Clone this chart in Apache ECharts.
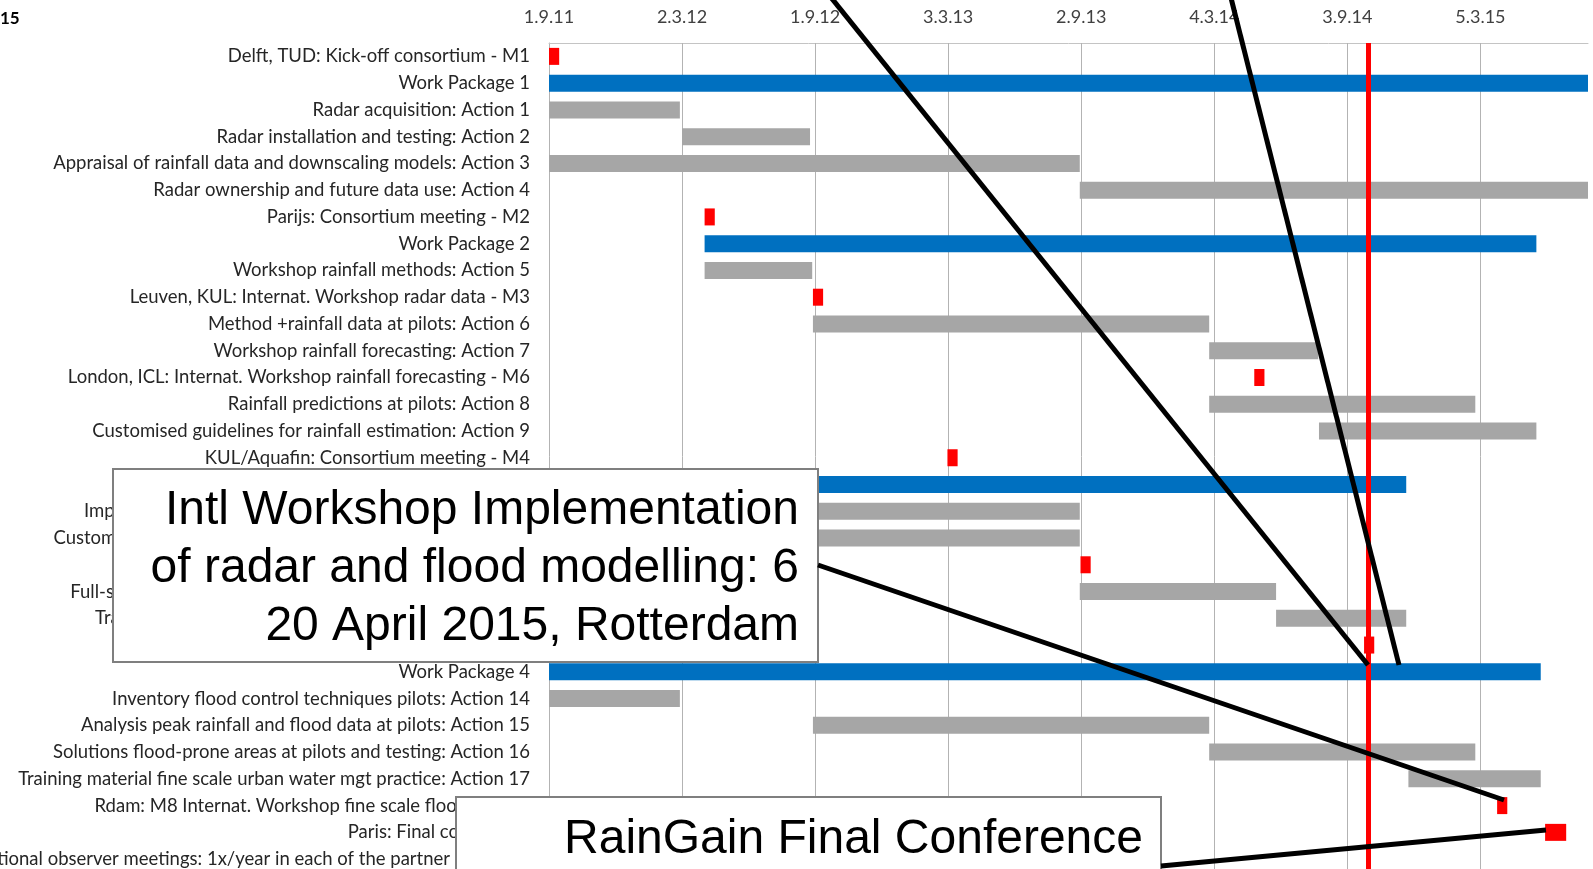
<!DOCTYPE html>
<html><head><meta charset="utf-8">
<script src="https://cdn.jsdelivr.net/npm/echarts@6/dist/echarts.min.js"></script>
<style>html,body{margin:0;padding:0;background:#fff;overflow:hidden}#c{width:1593px;height:869px}</style>
</head><body><div id="c"></div><script>
// ---- data ----
const taskLabels = [
  'Delft, TUD: Kick-off consortium - M1',
  'Work Package 1',
  'Radar acquisition: Action 1',
  'Radar installation and testing: Action 2',
  'Appraisal of rainfall data and downscaling models: Action 3',
  'Radar ownership and future data use: Action 4',
  'Parijs: Consortium meeting - M2',
  'Work Package 2',
  'Workshop rainfall methods: Action 5',
  'Leuven, KUL: Internat. Workshop radar data - M3',
  'Method +rainfall data at pilots: Action 6',
  'Workshop rainfall forecasting: Action 7',
  'London, ICL: Internat. Workshop rainfall forecasting - M6',
  'Rainfall predictions at pilots: Action 8',
  'Customised guidelines for rainfall estimation: Action 9',
  'KUL/Aquafin: Consortium meeting - M4',
  'Work Package 3',
  'Implementation of radar data at urban pilots: Action 10',
  'Customised guidelines for urban flood modeling: Action 11',
  'Consortium meeting - M5',
  'Full-scale flood modelling and testing at pilots: Action 12',
  'Training on radar and flood modelling tools: Action 13',
  'Internat. Workshop - M7',
  'Work Package 4',
  'Inventory flood control techniques pilots: Action 14',
  'Analysis peak rainfall and flood data at pilots: Action 15',
  'Solutions flood-prone areas at pilots and testing: Action 16',
  'Training material fine scale urban water mgt practice: Action 17',
  'Rdam: M8 Internat. Workshop fine scale flood models',
  'Paris: Final conference',
  'National observer meetings: 1x/year in each of the partner countries'
];
const taskKinds = ['M','WP','A','A','A','A','M','WP','A','M','A','A','M','A','A','M','WP','A','A','M','A','A','M','WP','A','A','A','A','M','M',''];
const taskStarts = [
  '2011-09-01','2011-09-01','2011-09-01','2012-03-02','2011-09-01','2013-08-31',
  '2012-04-02','2012-04-02','2012-04-02','2012-08-29','2012-08-29','2014-02-25',
  '2014-04-28','2014-02-25','2014-07-26','2013-03-02','2012-08-29','2012-08-29',
  '2012-08-29','2013-09-01','2013-08-31','2014-05-28','2014-09-26','2011-09-01',
  '2011-09-01','2012-08-29','2014-02-25','2014-11-26','2015-03-28','2015-06-02', null
];
const taskEnds = [
  '2011-09-15','2015-07-31','2012-02-28','2012-08-25','2013-08-31','2015-07-31',
  '2012-04-16','2015-05-21','2012-08-28','2012-09-12','2014-02-25','2014-07-25',
  '2014-05-12','2015-02-26','2015-05-21','2013-03-16','2014-11-23','2013-08-31',
  '2013-08-31','2013-09-15','2014-05-28','2014-11-23','2014-10-10','2015-05-27',
  '2012-02-28','2014-02-25','2015-02-26','2015-05-27','2015-04-11','2015-07-01', null
];
const tickLabels = ['1.9.11','2.3.12','1.9.12','3.3.13','2.9.13','4.3.14','3.9.14','5.3.15'];
const axisStartDate = '2011-09-01';
const axisEndDate = '2015-07-31';
const tickStepDays = 183;
const todayDate = '2014-10-02';
const titleText = '15';
const callout1Text = 'Intl Workshop Implementation\nof radar and flood modelling: 6\n20 April 2015, Rotterdam';
const callout2Text = 'RainGain Final Conference';

// ---- build ----
const kindColor = {M:'#FF0000', WP:'#0070C0', A:'#A6A6A6'};
const dayOf = s => (Date.parse(s) - Date.parse(axisStartDate)) / 864e5;
const barData = [];
taskLabels.forEach((lab, i) => {
  if (!taskStarts[i]) return;
  barData.push({value:[i, dayOf(taskStarts[i]), dayOf(taskEnds[i])], itemStyle:{color: kindColor[taskKinds[i]]}});
});
const tickDays = tickLabels.map((t, k) => k * tickStepDays);
const labelFont = 'Lato';

const chart = echarts.init(document.getElementById('c'), null, {renderer:'canvas'});
chart.setOption({
  animation:false,
  backgroundColor:'#fff',
  grid:{left:549, top:43, width:1039, height:829.5, containLabel:false, outerBoundsMode:'none'},
  xAxis:{
    type:'value', position:'top', min:0, max:dayOf(axisEndDate), interval:tickStepDays,
    axisLine:{show:true, lineStyle:{color:'#C4C4C4', width:1}},
    axisTick:{show:false},
    splitLine:{show:false},
    axisLabel:{
      color:'#404040', fontSize:18, fontFamily:labelFont, margin:17, showMaxLabel:false,
      formatter: v => (v % tickStepDays === 0 ? (tickLabels[v / tickStepDays] || '') : '')
    }
  },
  yAxis:{
    type:'category', inverse:true, data:taskLabels,
    axisLine:{show:true, lineStyle:{color:'#B3B3B3', width:1}},
    axisTick:{show:false},
    splitLine:{show:false},
    axisLabel:{interval:0, color:'#262626', fontSize:18.5, fontFamily:labelFont, margin:19}
  },
  series:[
    {
      type:'line', data:[], z:1, silent:true,
      markLine:{silent:true, symbol:'none', z:1, animation:false, label:{show:false},
        lineStyle:{color:'#B3B3B3', width:1, type:'solid'},
        data: tickDays.slice(1).map(v => ({xAxis:v}))}
    },
    {
      type:'custom', z:2, silent:true,
      encode:{x:[1,2], y:0},
      renderItem:(params, api) => {
        const row = api.value(0);
        const a = api.coord([api.value(1), row]);
        const b = api.coord([api.value(2), row]);
        const h = 17;
        return {type:'rect', shape:{x:a[0], y:a[1]-h/2, width:b[0]-a[0], height:h},
                style:{fill: api.visual('color')}};
      },
      data: barData
    },
    {
      type:'line', data:[], z:5, silent:true,
      markLine:{silent:true, symbol:'none', z:5, animation:false, label:{show:false},
        lineStyle:{color:'#FF0000', width:5, type:'solid'},
        data:[{xAxis: dayOf(todayDate)}]}
    }
  ],
  graphic:[
    {type:'text', x:0, y:19, z:50, style:{text:titleText, font:'bold 17px Lato', fill:'#000', verticalAlign:'middle'}},
    {type:'line', z:60, shape:{x1:825, y1:-10, x2:1368, y2:665}, style:{stroke:'#000', lineWidth:5}},
    {type:'line', z:60, shape:{x1:1229, y1:-10, x2:1399, y2:665}, style:{stroke:'#000', lineWidth:5}},
    {type:'rect', z:70, shape:{x:113, y:469, width:705, height:193}, style:{fill:'#fff', stroke:'#7F7F7F', lineWidth:2}},
    {type:'text', z:71, x:799, y:569, style:{text:callout1Text, font:'48px "Liberation Sans"', fill:'#000', align:'right', verticalAlign:'middle', lineHeight:58}},
    {type:'line', z:72, shape:{x1:818, y1:565, x2:1504, y2:800}, style:{stroke:'#000', lineWidth:5}},
    {type:'rect', z:70, shape:{x:456, y:797, width:705, height:90}, style:{fill:'#fff', stroke:'#7F7F7F', lineWidth:2}},
    {type:'text', z:71, x:1143, y:840, style:{text:callout2Text, font:'48px "Liberation Sans"', fill:'#000', align:'right', verticalAlign:'middle'}},
    {type:'line', z:72, shape:{x1:1161, y1:866, x2:1546, y2:830}, style:{stroke:'#000', lineWidth:5}}
  ]
});
</script></body></html>
